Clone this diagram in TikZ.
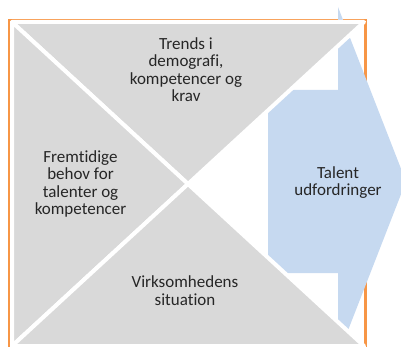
\documentclass[tikz,border=0pt]{standalone}
\usepackage{fontspec}
\setmainfont[Ligatures=NoCommon]{Carlito}
\usepackage{xcolor}
\usepackage{tikz}
\definecolor{frameorange}{RGB}{247,150,70}
\definecolor{arrowblue}{RGB}{198,217,240}
\definecolor{trigray}{RGB}{217,217,217}
\begin{document}
\begin{tikzpicture}[x=1pt,y=-1pt,
    tri/.style={fill=trigray, draw=white, line width=4pt, line join=round},
    lbl/.style={align=center, inner sep=0pt, text=black!85,
      font=\fontsize{17}{17.5}\selectfont}]
    \useasboundingbox (0,0) rectangle (401,347);
    \clip (0,0) rectangle (401,347);
    \draw[frameorange, line width=3pt] (9.5,380) |- (365,20.5) -- (365,380);
    \fill[arrowblue] (268,90) -- (338,90) -- (338,7) -- (406,181.5)
      -- (338,356) -- (338,273) -- (268,273) -- cycle;

    \coordinate (tl) at (12,22);
    \coordinate (tr) at (364,22);
    \coordinate (br) at (364,346);
    \coordinate (bl) at (12,346);
    \coordinate (c) at (188,184);
    \filldraw[tri] (tl) -- (tr) -- (c) -- cycle;
    \filldraw[tri] (tl) -- (bl) -- (c) -- cycle;
    \filldraw[tri] (bl) -- (br) -- (c) -- cycle;

    \node[lbl] (t1) at (186,69.5) {Trends i\\demografi,\\kompetencer og\\krav};
    \node[lbl] (l1) at (80.5,184) {Fremtidige\\behov for\\talenter og\\kompetencer};
    \node[lbl] (b1) at (185,290.5) {Virksomhedens\\situation};
    \node[lbl] (r1) at (338,182.5) {Talent\\udfordringer};
\end{tikzpicture}
\end{document}
